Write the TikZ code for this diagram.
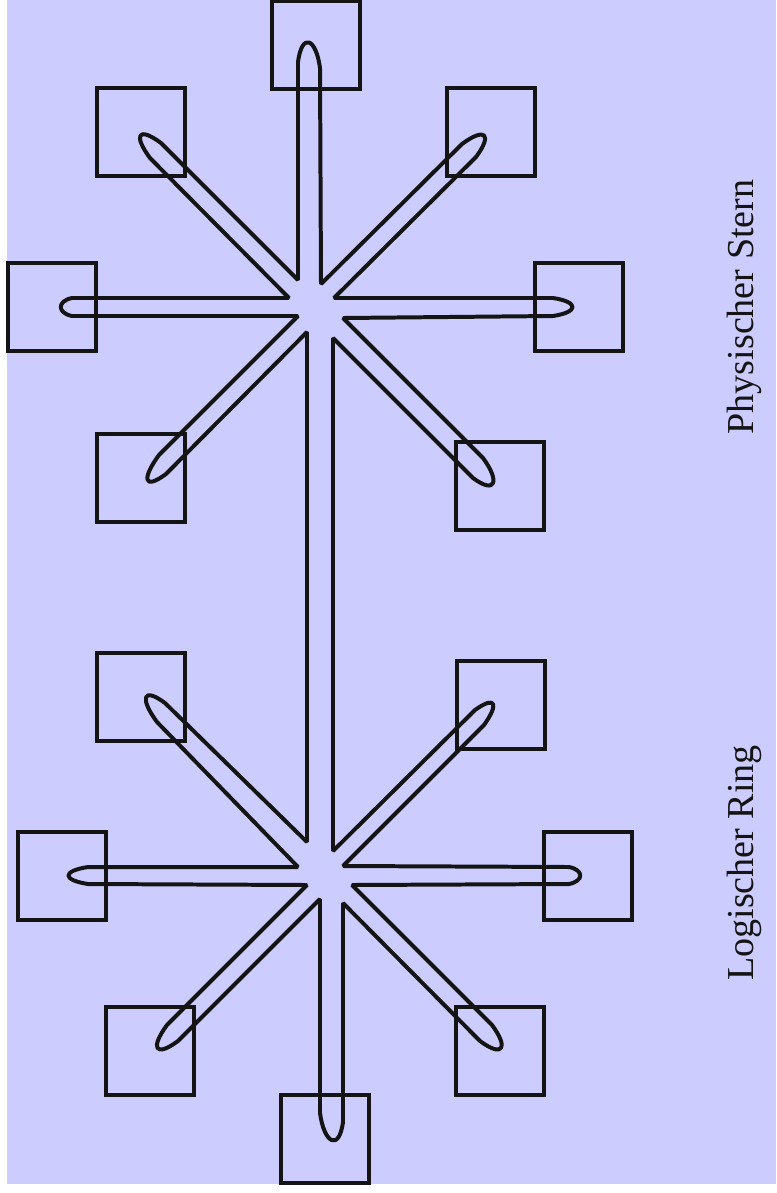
\documentclass[tikz,border=0pt]{standalone}
\usepackage{fontspec}
\setmainfont{Liberation Serif}
\usepackage{tikz}
\usetikzlibrary{positioning,calc}
\definecolor{RingBlack}{RGB}{20,20,20}
\definecolor{BackLilac}{RGB}{204,204,255}
\tikzset{
  station/.style={draw=RingBlack,line width=3.5pt,minimum size=2.64cm,inner sep=0pt},
  ring/.style={draw=RingBlack,line width=3.4pt,line join=bevel},
  lbl/.style={rotate=90,anchor=base,text=RingBlack,font=\fontsize{32.5}{38}\selectfont},
}

\begin{document}
\begin{tikzpicture}[x=0.03cm,y=-0.03cm]
\useasboundingbox (0,0) rectangle (776,1193);
\fill[BackLilac] (7,0) rectangle (776,1184);
% physischer Stern, oben
\node[station] (psN)  at (316,45)  {};
\node[station] (psNW) at (141,132) {};
\node[station] (psNE) at (491,132) {};
\node[station] (psW)  at (52,307)  {};
\node[station] (psE)  at (579,307) {};
\node[station] (psSW) at (141,478) {};
\node[station] (psSE) at (500,486) {};
% zweiter Stern, unten
\node[station] (lsNW) at (141,697)  {};
\node[station] (lsNE) at (501,705)  {};
\node[station] (lsW)  at (62,876)   {};
\node[station] (lsE)  at (588,876)  {};
\node[station] (lsSW) at (150,1051) {};
\node[station] (lsSE) at (500,1051) {};
\node[station] (lsS)  at (325,1139) {};
% der logische Ring
\draw[ring] (307,333) -- (307,842)
  -- (165,703) .. controls +(-23,-17) and +(-17,-23) .. (157,722)
  -- (298,867) -- (88,867) .. controls +(-26,4) and +(-26,-4) .. (88,884)
  -- (307,885) -- (167,1025) .. controls +(-17,23) and +(-23,17) .. (178,1041)
  -- (320,899) -- (320,1113) .. controls +(4,30) and +(-4,30) .. (343,1122)
  -- (343,903) -- (480,1041) .. controls +(23,17) and +(17,23) .. (492,1025)
  -- (352,885) -- (569,884) .. controls +(15,-3) and +(15,3) .. (569,867)
  -- (343,866) -- (484,725) .. controls +(15,-21) and +(21,-15) .. (475,710)
  -- (333,851) -- (333,338)
  -- (473,478) .. controls +(23,17) and +(17,23) .. (483,458)
  -- (343,318) -- (553,316) .. controls +(26,-4) and +(26,4) .. (553,298)
  -- (334,298) -- (476,157) .. controls +(17,-23) and +(23,-17) .. (462,144)
  -- (321,284) -- (320,68) .. controls +(-4,-30) and +(4,-30) .. (298,62)
  -- (298,280) -- (161,143) .. controls +(-23,-17) and +(-17,-23) .. (150,158)
  -- (289,298) -- (72,298) .. controls +(-15,3) and +(-15,-3) .. (72,316)
  -- (298,316) -- (159,455) .. controls +(-17,23) and +(-23,17) .. (166,474)
  -- (307,332) -- cycle;
\node[lbl] (stern) at (753,307) {Physischer Stern};
\node[lbl] (ring)  at (753,863) {Logischer Ring};
\end{tikzpicture}
\end{document}
